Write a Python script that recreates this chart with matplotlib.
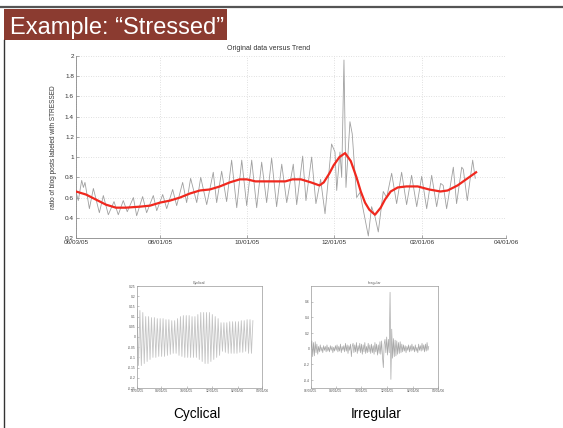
import numpy as np
import matplotlib
matplotlib.use("Agg")
import matplotlib.pyplot as plt
import matplotlib.dates as mdates
from matplotlib.patches import Rectangle
from matplotlib.lines import Line2D
import datetime as dt

plt.rcParams['font.family'] = ['Liberation Sans', 'DejaVu Sans']

# ---------------- data ----------------
start_date = dt.date(2005, 6, 3)
tick_dates = [dt.date(2005, 6, 3), dt.date(2005, 8, 1), dt.date(2005, 10, 1),
              dt.date(2005, 12, 1), dt.date(2006, 2, 1), dt.date(2006, 4, 1)]
tick_labels = ["06/03/05", "08/01/05", "10/01/05", "12/01/05", "02/01/06", "04/01/06"]

main_yticks = [0.2, 0.4, 0.6, 0.8, 1.0, 1.2, 1.4, 1.6, 1.8, 2.0]
main_ylabels = ["0.2", "0.4", "0.6", "0.8", "1", "1.2", "1.4", "1.6", "1.8", "2"]

# original data (days after 06/03/05, ratio)
gray_day = [0, 1.6, 4.0, 5.2, 6.3, 9.4, 12.2, 16.4, 19.2, 22.7, 26.7, 29.7, 33.2, 36.0,
            40.3, 42.6, 46.8, 49.6, 54.3, 56.7, 60.9, 63.7, 67.9, 70.7, 74.9, 77.7,
            80.5, 84.8, 87.6, 91.8, 96.4, 98.8, 102.3, 105.8, 109.3, 112.9, 116.4,
            119.9, 123.4, 126.9, 130.4, 133.9, 137.4, 140.9, 144.5, 148.0, 152.6,
            155.0, 159.2, 161.5, 165.5, 168.5, 171.8, 174.9, 179.5, 181.9, 183.1,
            185.4, 186.6, 188.2, 189.6, 192.4, 194.0, 197.1, 199.4, 205.3, 207.6,
            210.0, 212.3, 215.8, 218.2, 221.7, 225.2, 228.7, 232.2, 235.7, 239.3,
            242.8, 246.3, 249.8, 253.3, 256.1, 257.9, 260.3, 265.0, 267.3, 270.9,
            272.0, 274.8, 278.6, 280.4]
gray_val = [0.66, 0.57, 0.77, 0.70, 0.75, 0.49, 0.69, 0.45, 0.62, 0.43, 0.56, 0.43, 0.57, 0.46,
            0.60, 0.42, 0.61, 0.45, 0.62, 0.47, 0.63, 0.49, 0.68, 0.52, 0.75, 0.55,
            0.79, 0.55, 0.80, 0.53, 0.85, 0.55, 0.86, 0.56, 0.97, 0.50, 0.97,
            0.52, 0.97, 0.50, 0.95, 0.55, 0.99, 0.51, 0.93, 0.55, 0.93,
            0.53, 1.01, 0.57, 1.00, 0.54, 0.78, 0.44, 1.13, 1.05, 0.67,
            1.05, 0.80, 1.96, 0.70, 1.35, 1.23, 0.60, 0.65, 0.22, 0.51,
            0.41, 0.26, 0.66, 0.60, 0.84, 0.54, 0.85, 0.53, 0.82, 0.51,
            0.81, 0.49, 0.82, 0.51, 0.74, 0.72, 0.49, 0.90, 0.54, 0.90,
            0.88, 0.57, 0.97, 0.79]

trend_day = [0, 7, 14, 21, 28, 35, 45, 52, 59, 66, 73, 80, 87, 94, 101, 108, 115, 120, 126, 133,
             140, 147, 152, 158, 165, 171, 174, 178, 181, 185, 189, 193, 197, 200, 203, 206, 210,
             214, 217, 221, 226, 232, 240, 248, 256, 261, 268, 275, 281]
trend_val = [0.66, 0.63, 0.58, 0.53, 0.50, 0.50, 0.51, 0.52, 0.55, 0.57, 0.60, 0.64, 0.67, 0.68,
             0.71, 0.75, 0.78, 0.78, 0.76, 0.76, 0.76, 0.76, 0.78, 0.78, 0.75, 0.72, 0.75, 0.84,
             0.92, 1.00, 1.04, 0.96, 0.80, 0.66, 0.55, 0.48, 0.43, 0.50, 0.58, 0.66, 0.70, 0.71,
             0.71, 0.68, 0.66, 0.67, 0.72, 0.79, 0.85]

# cyclical component, sampled every half week (peak / trough)
cyc_step = 3.5
cyc_val = [0.135, -0.14, 0.13, -0.14, 0.12, -0.13, 0.10, -0.12, 0.10, -0.11, 0.095, -0.10,
           0.095, -0.10, 0.09, -0.095, 0.09, -0.095, 0.09, -0.095, 0.085, -0.09, 0.085, -0.085,
           0.08, -0.08, 0.08, -0.08, 0.09, -0.09, 0.10, -0.095, 0.105, -0.10, 0.105, -0.10,
           0.105, -0.10, 0.10, -0.10, 0.10, -0.10, 0.11, -0.11, 0.12, -0.12, 0.12, -0.13,
           0.12, -0.13, 0.12, -0.12, 0.11, -0.11, 0.10, -0.10, 0.09, -0.09, 0.07, -0.07,
           0.07, -0.075, 0.07, -0.08, 0.075, -0.08, 0.075, -0.08, 0.075, -0.08, 0.075, -0.075,
           0.08, -0.075, 0.08, -0.07, 0.085, -0.08, 0.085, -0.08, 0.08]
cyc_yticks = [-0.25, -0.2, -0.15, -0.1, -0.05, 0, 0.05, 0.1, 0.15, 0.2, 0.25]
cyc_ylabels = ["-0.25", "-0.2", "-0.15", "-0.1", "-0.05", "0", "0.05", "0.1", "0.15", "0.2", "0.25"]

# irregular component, every 2 days
irr_step = 2
irr_val = [0.00, 0.10, -0.10, 0.08, -0.09, 0.09, -0.05, 0.06, -0.07, 0.03,
           -0.04, 0.05, -0.03, 0.02, -0.05, 0.04, -0.02, 0.03, -0.04, 0.05,
           -0.03, 0.02, -0.04, 0.04, -0.02, 0.03, -0.05, 0.02, -0.03, 0.04,
           -0.02, 0.05, -0.04, 0.03, -0.03, 0.06, -0.05, 0.03, -0.02, 0.04,
           -0.04, 0.07, -0.03, 0.05, -0.06, 0.04, -0.02, 0.06, -0.10, 0.03,
           0.07, -0.05, 0.05, -0.04, 0.08, -0.06, 0.04, -0.03, 0.07, -0.05,
           0.06, -0.07, 0.05, -0.04, 0.08, -0.06, 0.03, -0.05, 0.07, -0.04,
           0.05, -0.06, 0.06, -0.05, 0.04, -0.07, 0.08, -0.04, 0.06, -0.08,
           0.05, -0.06, 0.09, -0.07, 0.10, -0.10, -0.24, 0.06, 0.12, -0.05,
           0.15, -0.08, 0.12, -0.05, 0.72, -0.39, 0.25, -0.12, 0.13, -0.10,
           0.11, -0.09, 0.10, -0.07, 0.08, -0.06, 0.09, -0.05, 0.06, -0.04,
           0.05, -0.03, 0.04, -0.05, 0.03, -0.02, 0.05, -0.04, 0.04, -0.03,
           0.06, -0.02, 0.03, -0.04, 0.05, -0.03, 0.02, -0.05, 0.06, -0.02,
           0.04, -0.03, 0.07, -0.02, 0.05, -0.04, 0.06, -0.03, 0.08, -0.02,
           0.03]
irr_yticks = [-0.4, -0.2, 0, 0.2, 0.4, 0.6]
irr_ylabels = ["-0.4", "-0.2", "0", "0.2", "0.4", "0.6"]

# ---------------- figure ----------------
W, H = 563, 428
fig = plt.figure(figsize=(W / 100, H / 100), dpi=100)
fig.patch.set_facecolor("white")


def fx(x):
    return x / W


def fy(y):
    return 1 - y / H


def ax_rect(l, t, r, b):
    return [fx(l), fy(b), (r - l) / W, (b - t) / H]


base = mdates.date2num(start_date)
tick_nums = [mdates.date2num(d) for d in tick_dates]

# slide decorations
fig.add_artist(Line2D([fx(0), fx(W)], [fy(7), fy(7)], color="#555555", lw=1.6,
                      transform=fig.transFigure))
fig.add_artist(Line2D([fx(4), fx(4)], [fy(40), fy(H)], color="#333333", lw=1.0,
                      transform=fig.transFigure))
fig.add_artist(Rectangle((fx(4), fy(40)), (227 - 4) / W, (40 - 9) / H,
                         facecolor="#8b3b30", edgecolor="none",
                         transform=fig.transFigure))
fig.text(fx(10), fy(34), "Example: \u201cStressed\u201d", color="white", fontsize=17,
         ha="left", va="baseline")

# ---------- main chart ----------
ax = fig.add_axes(ax_rect(76, 56, 506, 238))
ax.plot(base + np.array(gray_day), gray_val, color="#a0a0a0", lw=0.6, zorder=2)
ax.plot(base + np.array(trend_day), trend_val, color="#f0281e", lw=1.6, zorder=3)
ax.set_xlim(tick_nums[0], tick_nums[-1])
ax.set_ylim(0.2, 2.0)
ax.set_xticks(tick_nums)
ax.set_xticklabels(tick_labels)
ax.set_yticks(main_yticks)
ax.set_yticklabels(main_ylabels)
ax.grid(True, linestyle=(0, (1, 2.5)), color="#c4c4c4", lw=0.5)
for s in ["top", "right"]:
    ax.spines[s].set_visible(False)
for s in ["left", "bottom"]:
    ax.spines[s].set_color("#888888")
    ax.spines[s].set_linewidth(0.6)
ax.tick_params(direction="in", length=2, width=0.5, color="#888888",
               labelsize=4.6, labelcolor="#333333", pad=1.5)
ax.set_ylabel("ratio of blog posts labeled with STRESSED", fontsize=4.7,
              color="#333333", labelpad=6)
fig.text(fx(269), fy(49), "Original data versus Trend", fontsize=5.0,
         color="#333333", ha="center", va="center")


def small_axes(rect, title):
    a = fig.add_axes(rect)
    a.set_xlim(tick_nums[0], tick_nums[-1])
    a.set_xticks(tick_nums)
    a.set_xticklabels(tick_labels)
    for s in a.spines.values():
        s.set_color("#999999")
        s.set_linewidth(0.5)
    a.tick_params(direction="in", length=1.5, width=0.4, color="#999999",
                  labelsize=2.4, labelcolor="#555555", pad=1)
    a.set_title(title, fontsize=2.6, color="#555555", pad=1.5)
    return a


# ---------- cyclical ----------
axc = small_axes(ax_rect(137, 286, 262, 388), "Cyclical")
axc.plot(base + np.arange(len(cyc_val)) * cyc_step, cyc_val, color="#c4c4c4", lw=0.6)
axc.set_ylim(-0.25, 0.25)
axc.set_yticks(cyc_yticks)
axc.set_yticklabels(cyc_ylabels)

# ---------- irregular ----------
axi = small_axes(ax_rect(311, 286, 438, 388), "Irregular")
axi.plot(base + np.arange(len(irr_val)) * irr_step, irr_val, color="#a8a8a8", lw=0.5)
axi.set_ylim(-0.5, 0.8)
axi.set_yticks(irr_yticks)
axi.set_yticklabels(irr_ylabels)

fig.text(fx(196.5), fy(414), "Cyclical", fontsize=9.8, color="black", ha="center", va="center")
fig.text(fx(376.5), fy(414), "Irregular", fontsize=9.8, color="black", ha="center", va="center")

fig.savefig("out.png", dpi=100)
